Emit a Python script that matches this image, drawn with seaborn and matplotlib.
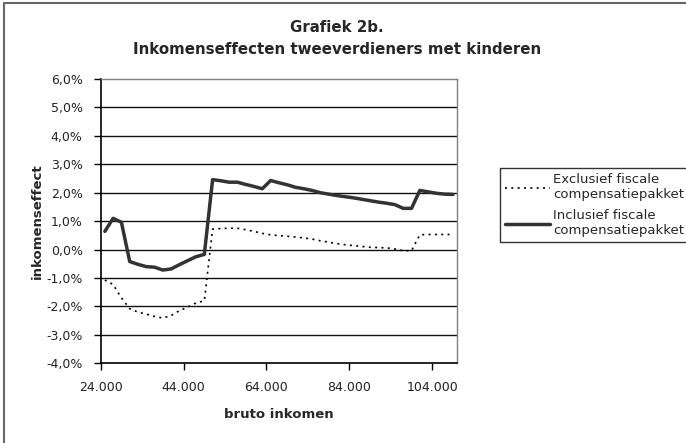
import numpy as np
import pandas as pd
import matplotlib
matplotlib.use("Agg")
import matplotlib.pyplot as plt
import seaborn as sns
from matplotlib.ticker import FuncFormatter
from matplotlib.lines import Line2D

# ---- data ----
inkomen = [25000, 27000, 29000, 31000, 33000, 35000, 37000, 39000, 41000, 43000,
           45000, 47000, 49000, 51000, 53000, 55000, 57000, 59000, 61000, 63000,
           65000, 67000, 69000, 71000, 73000, 75000, 77000, 79000, 81000, 83000,
           85000, 87000, 89000, 91000, 93000, 95000, 97000, 99000, 101000, 103000,
           105000, 107000, 109000]

exclusief = [-1.07, -1.23, -1.70, -2.08, -2.20, -2.27, -2.35, -2.41, -2.32, -2.15,
             -2.02, -1.88, -1.80, 0.72, 0.74, 0.75, 0.75, 0.70, 0.64, 0.57,
             0.52, 0.49, 0.47, 0.44, 0.41, 0.37, 0.31, 0.26, 0.21, 0.17,
             0.14, 0.11, 0.08, 0.07, 0.06, 0.02, -0.04, -0.04, 0.52, 0.53,
             0.53, 0.53, 0.53]

inclusief = [0.64, 1.10, 0.96, -0.42, -0.52, -0.60, -0.62, -0.72, -0.68, -0.53,
             -0.39, -0.25, -0.17, 2.46, 2.42, 2.37, 2.37, 2.29, 2.22, 2.14,
             2.43, 2.35, 2.28, 2.19, 2.14, 2.08, 2.00, 1.95, 1.90, 1.86,
             1.82, 1.77, 1.72, 1.67, 1.63, 1.58, 1.45, 1.45, 2.08, 2.03,
             1.98, 1.95, 1.94]

series_names = ["Exclusief fiscale\ncompensatiepakket", "Inclusief fiscale\ncompensatiepakket"]
x_ticks = [24000, 44000, 64000, 84000, 104000]
y_ticks = [-4, -3, -2, -1, 0, 1, 2, 3, 4, 5, 6]

title_text = "Grafiek 2b.\nInkomenseffecten tweeverdieners met kinderen"
xlabel_text = "bruto inkomen"
ylabel_text = "inkomenseffect"

df = pd.DataFrame({
    "inkomen": inkomen * 2,
    "effect": exclusief + inclusief,
    "reeks": [series_names[0]] * len(inkomen) + [series_names[1]] * len(inkomen),
})

# ---- style ----
sns.set_theme(style="white")
plt.rcParams["font.family"] = ["DejaVu Sans"]

W, H = 686, 443
fig = plt.figure(figsize=(W / 100, H / 100), dpi=100)
ax = fig.add_axes([100.7 / W, 1 - 363.3 / H, 356 / W, (363.3 - 79) / H])

sns.lineplot(data=df[df.reeks == series_names[0]], x="inkomen", y="effect", ax=ax,
             color="black", lw=1.2, linestyle=(0, (1.2, 2.6)), label=series_names[0])
sns.lineplot(data=df[df.reeks == series_names[1]], x="inkomen", y="effect", ax=ax,
             color="#333333", lw=2.5, label=series_names[1])

ax.set_xlim(24000, 109900)
ax.set_ylim(-4, 6)
ax.set_xticks(x_ticks)
ax.set_yticks(y_ticks)
ax.xaxis.set_major_formatter(FuncFormatter(lambda v, p: f"{int(v):,}".replace(",", ".")))
ax.yaxis.set_major_formatter(FuncFormatter(lambda v, p: f"{v:.1f}%".replace(".", ",")))

ax.grid(False)
for yv in y_ticks[1:-1]:
    ax.axhline(yv, color="#111111", lw=1.0, zorder=0)

for s in ["left", "bottom"]:
    ax.spines[s].set_color("black")
    ax.spines[s].set_linewidth(1.2)
for s in ["top", "right"]:
    ax.spines[s].set_color("#808080")
    ax.spines[s].set_linewidth(1.0)

ax.tick_params(axis="both", which="major", direction="out", length=5, width=1,
               color="black", labelsize=9, labelcolor="#222222", left=True, bottom=True, pad=8)
ax.tick_params(axis="y", pad=8)

ax.set_xlabel(xlabel_text, fontsize=9.5, fontweight="bold", labelpad=10)
ax.set_ylabel(ylabel_text, fontsize=9.5, fontweight="bold", labelpad=2)

fig.text(337 / W, 1 - 20 / H, title_text, ha="center", va="top", fontsize=10.8,
         fontweight="bold", linespacing=1.6)

leg = ax.legend(loc="upper left", bbox_to_anchor=(500 / W, 1 - 168 / H),
                bbox_transform=fig.transFigure, frameon=True, fontsize=9.5,
                handlelength=3.4, borderaxespad=0, fancybox=False,
                borderpad=0.4, labelspacing=0.6, handletextpad=0.25)
leg.get_frame().set_edgecolor("black")
leg.get_frame().set_linewidth(1.0)

# outer chart-area border (left and top visible)
fig.add_artist(Line2D([4 / W, 4 / W], [0, 1 - 3 / H], transform=fig.transFigure,
                      color="#666666", lw=1.5))
fig.add_artist(Line2D([4 / W, 1], [1 - 3 / H, 1 - 3 / H], transform=fig.transFigure,
                      color="#666666", lw=1.5))

fig.savefig("out.png", dpi=100)
